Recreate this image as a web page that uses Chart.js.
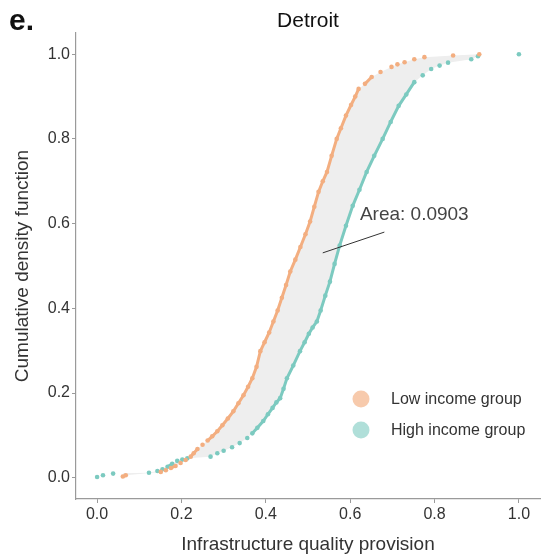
<!DOCTYPE html>
<html>
<head>
<meta charset="utf-8">
<script src="https://cdn.jsdelivr.net/npm/chart.js@4.4.1/dist/chart.umd.min.js"></script>
<style>
  html, body { margin: 0; padding: 0; background: #fff; }
  #wrap { width: 544px; height: 556px; }
</style>
</head>
<body>
<div id="wrap"><canvas id="cdfChart"></canvas></div>
<script>
// Cumulative distribution of infrastructure quality, Detroit
const lowIncomeX = [0.061, 0.068, 0.151, 0.163, 0.175, 0.186, 0.198, 0.210, 0.222, 0.229,
  0.238, 0.250, 0.262, 0.273, 0.285, 0.297, 0.310, 0.323, 0.335, 0.347,
  0.358, 0.368, 0.378, 0.387, 0.397, 0.408, 0.418, 0.428, 0.438, 0.448,
  0.458, 0.470, 0.482, 0.494, 0.505, 0.515, 0.525, 0.535, 0.545, 0.556,
  0.568, 0.578, 0.590, 0.602, 0.612, 0.620, 0.635, 0.651, 0.672, 0.698,
  0.712, 0.729, 0.752, 0.776, 0.844, 0.906];
const lowIncomeCdf = [0.003, 0.006, 0.014, 0.018, 0.023, 0.028, 0.035, 0.042, 0.050, 0.058,
  0.068, 0.078, 0.088, 0.098, 0.110, 0.124, 0.140, 0.157, 0.176, 0.195,
  0.215, 0.235, 0.262, 0.299, 0.320, 0.343, 0.369, 0.395, 0.425, 0.455,
  0.487, 0.515, 0.545, 0.575, 0.605, 0.640, 0.675, 0.700, 0.722, 0.760,
  0.800, 0.825, 0.855, 0.880, 0.900, 0.918, 0.930, 0.946, 0.958, 0.970,
  0.976, 0.981, 0.988, 0.993, 0.997, 1.000];

const highIncomeX = [0.000, 0.014, 0.038, 0.123, 0.143, 0.155, 0.167, 0.178, 0.190, 0.202,
  0.214, 0.269, 0.285, 0.300, 0.320, 0.338, 0.356, 0.368, 0.380, 0.394,
  0.405, 0.416, 0.425, 0.434, 0.442, 0.450, 0.465, 0.481, 0.492, 0.502,
  0.511, 0.521, 0.530, 0.541, 0.552, 0.563, 0.575, 0.590, 0.606, 0.622,
  0.639, 0.657, 0.677, 0.696, 0.715, 0.733, 0.752, 0.772, 0.792, 0.812,
  0.832, 0.887, 0.903, 1.000];
const highIncomeCdf = [0.002, 0.006, 0.010, 0.012, 0.016, 0.020, 0.026, 0.033, 0.040, 0.043,
  0.046, 0.050, 0.058, 0.064, 0.072, 0.082, 0.094, 0.105, 0.118, 0.134,
  0.150, 0.165, 0.178, 0.188, 0.210, 0.235, 0.265, 0.299, 0.320, 0.340,
  0.355, 0.369, 0.395, 0.430, 0.463, 0.505, 0.548, 0.595, 0.642, 0.680,
  0.722, 0.760, 0.800, 0.840, 0.878, 0.905, 0.934, 0.950, 0.965, 0.973,
  0.980, 0.988, 0.995, 1.000];

const axisTicks = [0, 0.2, 0.4, 0.6, 0.8, 1.0];
const seriesLabels = ["Low income group", "High income group"];
const areaValue = 0.0903;

const ORANGE = "#f3ae80";
const TEAL = "#7ccac0";
const FONT = "'Liberation Sans', Arial, sans-serif";

const toPoints = (xs, ys) => xs.map((x, i) => ({ x, y: ys[i] }));

// only stroke between dots where the curve climbs; flat, sparse runs stay as dots
const gapSegment = ctx => {
  const dx = Math.abs(ctx.p1.x - ctx.p0.x);
  const dy = Math.abs(ctx.p1.y - ctx.p0.y);
  return dx > 5 && dy < dx ? "transparent" : undefined;
};

const decorations = {
  id: "decorations",
  afterDraw(chart) {
    const { ctx, chartArea, scales } = chart;
    const x = scales.x, y = scales.y;
    ctx.save();

    // panel letter and title
    ctx.fillStyle = "#111";
    ctx.font = `bold 30px ${FONT}`;
    ctx.textAlign = "left";
    ctx.textBaseline = "alphabetic";
    ctx.fillText("e.", 9, 30);
    ctx.font = `21px ${FONT}`;
    ctx.textAlign = "center";
    ctx.textBaseline = "middle";
    ctx.fillText("Detroit", (chartArea.left + chartArea.right) / 2, 21);

    // area annotation
    ctx.strokeStyle = "#333";
    ctx.lineWidth = 1;
    ctx.beginPath();
    ctx.moveTo(x.getPixelForValue(0.535), y.getPixelForValue(0.531));
    ctx.lineTo(x.getPixelForValue(0.681), y.getPixelForValue(0.580));
    ctx.stroke();
    ctx.fillStyle = "#444";
    ctx.font = `19px ${FONT}`;
    ctx.textAlign = "left";
    ctx.fillText(`Area: ${areaValue}`, x.getPixelForValue(0.623), y.getPixelForValue(0.62));

    // legend
    const legendColors = ["rgba(243,174,128,0.65)", "rgba(124,202,192,0.6)"];
    seriesLabels.forEach((label, i) => {
      const cy = chartArea.bottom - 100 + i * 31;
      const cx = chartArea.right - 179;
      ctx.fillStyle = legendColors[i];
      ctx.beginPath();
      ctx.arc(cx, cy, 8.5, 0, Math.PI * 2);
      ctx.fill();
      ctx.fillStyle = "#333";
      ctx.font = `16px ${FONT}`;
      ctx.fillText(label, cx + 30, cy + 1);
    });
    ctx.restore();
  }
};

const axisStyle = (fitKey, fitSize, title, titlePad) => ({
  type: "linear",
  min: -0.05,
  max: 1.05,
  afterBuildTicks: s => { s.ticks = axisTicks.map(v => ({ value: v })); },
  afterFit: s => { s[fitKey] = fitSize; },
  ticks: {
    callback: v => v.toFixed(1),
    color: "#333",
    font: { family: FONT, size: 16 },
    padding: 2
  },
  grid: {
    drawOnChartArea: false,
    drawTicks: true,
    tickLength: 4,
    color: "#9a9a9a"
  },
  border: { color: "#9a9a9a", width: 1.2 },
  title: {
    display: true,
    text: title,
    color: "#333",
    font: { family: FONT, size: 19 },
    padding: titlePad
  }
});

// invisible boundary curves that carry the shaded band, kept apart from the
// segmented dot lines so the fill stays one seamless shape
const bandEdge = (data, fill) => ({
  data,
  borderWidth: 0,
  pointRadius: 0,
  backgroundColor: "#eeeeee",
  fill,
  tension: 0
});

const dotLine = (label, data, color) => ({
  label,
  data,
  borderColor: color,
  borderWidth: 3,
  pointRadius: 2.3,
  pointBorderWidth: 0,
  pointBackgroundColor: color,
  fill: false,
  tension: 0,
  segment: { borderColor: gapSegment }
});

const lowPoints = toPoints(lowIncomeX, lowIncomeCdf);
const highPoints = toPoints(highIncomeX, highIncomeCdf);

new Chart(document.getElementById("cdfChart"), {
  type: "line",
  data: {
    datasets: [
      bandEdge(lowPoints, "+1"),
      bandEdge(highPoints, false),
      dotLine(seriesLabels[0], lowPoints, ORANGE),
      dotLine(seriesLabels[1], highPoints, TEAL)
    ]
  },
  options: {
    responsive: true,
    maintainAspectRatio: false,
    animation: false,
    layout: { padding: { top: 33, right: 2, left: 0, bottom: 0 } },
    plugins: {
      legend: { display: false },
      tooltip: { enabled: false },
      filler: { drawTime: "beforeDatasetsDraw" }
    },
    scales: {
      x: axisStyle("height", 57, "Infrastructure quality provision", { top: 0, bottom: 0 }),
      y: axisStyle("width", 76, "Cumulative density function", { top: 11, bottom: 0 })
    }
  },
  plugins: [decorations]
});
</script>
</body>
</html>
